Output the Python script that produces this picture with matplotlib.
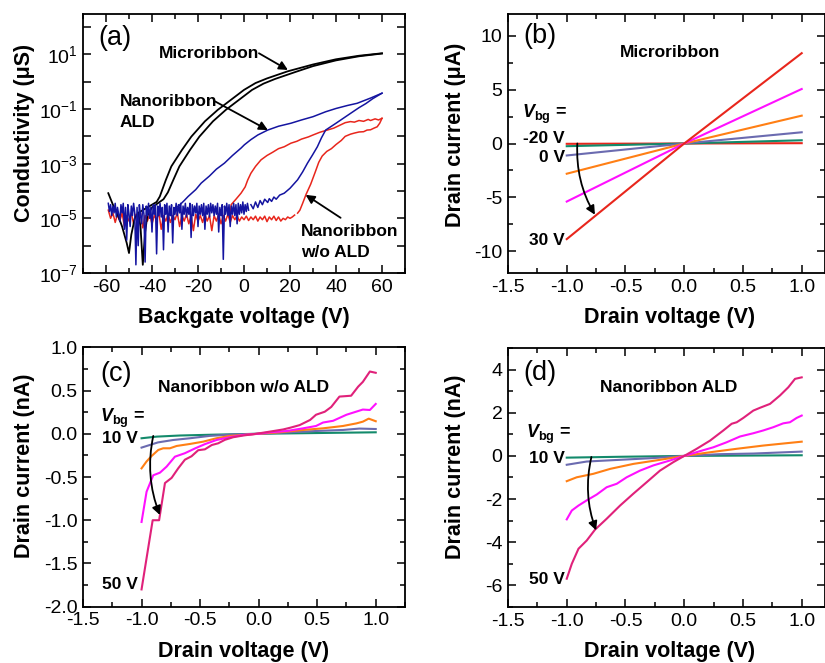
import numpy as np
import matplotlib
matplotlib.use('Agg')
import matplotlib.pyplot as plt
from matplotlib.ticker import MultipleLocator, FixedLocator, FuncFormatter, NullLocator, FormatStrFormatter

plt.rcParams['font.family'] = ['Liberation Sans', 'DejaVu Sans']
plt.rcParams['mathtext.fontset'] = 'custom'
plt.rcParams['mathtext.rm'] = 'Liberation Sans'
plt.rcParams['mathtext.it'] = 'Liberation Sans:italic'
plt.rcParams['mathtext.bf'] = 'Liberation Sans:bold'
plt.rcParams['mathtext.bfit'] = 'Liberation Sans:bold:italic'
plt.rcParams['axes.unicode_minus'] = False

# ---------------- panel (a): conductivity (log10 of uS) vs backgate voltage ----------------
floor_blue_v = np.arange(-59, 2.5, 0.5)
floor_blue_log = [
    -4.45, -4.75, -4.50, -4.90, -4.55, -4.80, -4.45, -4.95, -4.60, -4.85,
    -5.10, -4.50, -4.80, -4.45, -5.40, -4.60, -5.80, -4.50, -4.85, -5.30,
    -4.55, -4.90, -4.45, -4.80, -6.70, -4.60, -6.00, -4.50, -4.90, -5.20,
    -4.50, -4.85, -6.60, -4.55, -4.90, -4.45, -5.00, -4.60, -5.50, -4.50,
    -4.85, -4.50, -6.30, -4.55, -4.90, -4.45, -4.95, -4.60, -6.15, -4.50,
    -4.85, -4.45, -5.50, -4.55, -4.90, -4.50, -5.90, -4.60, -4.85, -4.45,
    -4.90, -4.50, -4.80, -4.45, -5.40, -4.55, -4.85, -4.45, -4.95, -4.60,
    -4.85, -4.45, -5.70, -4.50, -4.90, -4.55, -4.80, -4.45, -5.30, -4.55,
    -4.85, -4.50, -4.90, -4.45, -5.40, -4.55, -4.85, -4.50, -4.95, -4.45,
    -4.80, -4.50, -4.90, -4.55, -4.85, -4.45, -5.50, -4.60, -4.90, -4.50,
    -6.50, -4.55, -4.85, -4.45, -4.90, -4.50, -5.30, -4.55, -4.85, -4.45,
    -4.90, -4.50, -5.20, -4.45, -4.85, -4.50, -4.80, -4.40, -4.85, -4.50,
    -4.75, -4.45, -4.70]
blue_rise_v = [3, 4, 5, 6, 7, 8, 9, 10.3, 11, 12, 13, 14, 15.5, 17.5, 20, 23.3, 25.5, 27.6, 29.8, 31.9,
               33.7, 35.5, 40, 46.3, 50, 53, 56, 60]
blue_rise_log = [-4.5, -4.65, -4.4, -4.6, -4.35, -4.5, -4.3, -4.42, -4.28, -4.38, -4.22, -4.3, -4.15,
                 -4.08, -3.9, -3.59, -3.3, -2.98, -2.68, -2.38, -2.05, -1.77, -1.52, -1.16, -0.95,
                 -0.8, -0.62, -0.42]
blue_back_v = [-28.7, -26, -24.3, -21, -18.6, -15, -12, -8.5, -5, -1.3, 0.15, 3, 6, 10.3, 15, 20.4,
               25, 30, 35.5, 40, 45, 49.2, 55, 60]
blue_back_log = [-4.57, -4.35, -4.2, -3.95, -3.71, -3.45, -3.2, -2.98, -2.7, -2.43, -2.31, -2.12, -1.95,
                 -1.77, -1.63, -1.52, -1.4, -1.28, -1.1, -0.98, -0.87, -0.79, -0.6, -0.42]

floor_red_v = np.arange(-59, 23)
floor_red_log = [
    -4.70, -5.00, -4.80, -5.15, -4.85, -5.10, -4.80, -5.30, -4.90, -5.10,
    -4.80, -5.20, -4.85, -5.05, -4.80, -5.35, -4.90, -5.10, -4.85, -5.20,
    -4.90, -5.05, -4.80, -5.40, -4.90, -5.10, -4.85, -5.15, -4.90, -5.05,
    -4.80, -5.30, -4.90, -5.10, -4.85, -5.20, -4.90, -5.45, -4.85, -5.10,
    -4.90, -5.15, -4.85, -5.10, -4.90, -5.45, -4.90, -5.10, -4.85, -5.20,
    -4.90, -5.10, -4.85, -5.15, -4.90, -5.05, -4.90, -5.10, -4.95, -5.05,
    -4.92, -5.08, -4.95, -5.05, -4.92, -5.10, -4.95, -5.05, -4.92, -5.12,
    -4.95, -5.05, -4.92, -5.08, -4.95, -5.10, -5.00, -5.05, -4.95, -5.00,
    -4.95, -4.88]
red_rise_v = [23.3, 24.3, 25.5, 27, 29, 31, 32.5, 34, 36, 38, 40, 42.3, 44, 46.3, 48, 50, 52, 53.5,
              55, 56.5, 57.9, 59, 60]
red_rise_log = [-4.81, -4.7, -4.45, -4.12, -3.75, -3.3, -2.95, -2.72, -2.55, -2.45, -2.3, -2.15, -2.0,
                -1.92, -1.88, -1.84, -1.83, -1.77, -1.76, -1.7, -1.65, -1.52, -1.34]
red_back_v = [-6, -5.6, -3.5, -1.3, 0.5, 1.6, 3, 5, 7.4, 10, 12.5, 15, 17.5, 20.4, 23, 25, 28, 30, 33,
              36.2, 39, 42, 44, 46.3, 48, 50, 52, 54, 55, 57, 58.5, 60]
red_back_log = [-4.9, -4.5, -4.3, -4.08, -3.85, -3.6, -3.35, -3.1, -2.86, -2.7, -2.58, -2.45, -2.38,
                -2.25, -2.18, -2.1, -2.02, -1.95, -1.85, -1.77, -1.7, -1.58, -1.5, -1.46, -1.48, -1.42,
                -1.45, -1.38, -1.42, -1.36, -1.4, -1.34]

black_back_v = [-59, -57, -55, -53, -51, -50, -49, -47.5, -46, -44, -42, -40, -38, -36.6, -34, -31.6,
                -27, -22.9, -17, -11.4, -5, 0, 5, 10, 19, 30, 40, 50, 60]
black_back_log = [-4.08, -4.5, -4.85, -5.3, -5.9, -6.27, -5.6, -5.0, -4.8, -4.7, -4.6, -4.5, -4.4, -4.2,
                  -3.6, -3.1, -2.5, -2.01, -1.45, -1.03, -0.62, -0.30, -0.05, 0.12, 0.38, 0.63, 0.82,
                  0.95, 1.04]
black_fwd_v = [-46, -45, -44, -43, -42, -40, -37.5, -35, -33.1, -30.5, -28.1, -23.5, -19.4, -13.5, -7.9,
               -1.5, 3.5, 8.5, 13.5, 22.5, 30, 40, 50, 60]
black_fwd_log = [-4.8, -5.3, -6.7, -5.5, -4.9, -4.6, -4.45, -4.3, -4.05, -3.55, -3.1, -2.5, -2.01, -1.45,
                 -1.03, -0.62, -0.30, -0.07, 0.10, 0.36, 0.57, 0.78, 0.93, 1.03]

# ---------------- panel (b): microribbon I-V (uA) ----------------
vd_b = [-1.0, 0.0, 1.0]
b_vbg = ['-20', '-10', '0', '10', '20', '30']
b_curr = [[-0.03, 0.0, 0.03],
          [-0.25, 0.0, 0.30],
          [-1.11, 0.0, 1.04],
          [-2.80, 0.0, 2.58],
          [-5.38, 0.0, 5.05],
          [-8.86, 0.0, 8.37]]

# ---------------- panel (c): nanoribbon w/o ALD (nA) ----------------
c_v10 = [-1.0, -0.87, -0.67, -0.37, 0.0, 1.0]
c_i10 = [-0.052, -0.033, -0.02, -0.01, 0.0, 0.017]
c_v20 = [-1.0, -0.93, -0.86, -0.73, -0.587, -0.42, -0.246, 0.0, 0.27, 0.49, 0.72, 0.86, 1.0]
c_i20 = [-0.16, -0.13, -0.10, -0.072, -0.052, -0.025, -0.01, 0.0, 0.017, 0.032, 0.044, 0.06, 0.055]
c_v30 = [-1.0, -0.957, -0.914, -0.857, -0.815, -0.758, -0.70, -0.587, -0.473, -0.36, -0.246, 0.0,
         0.18, 0.38, 0.55, 0.72, 0.835, 0.89, 0.94, 1.0]
c_i30 = [-0.40, -0.32, -0.257, -0.187, -0.168, -0.168, -0.141, -0.118, -0.091, -0.052, -0.025, 0.0,
         0.017, 0.044, 0.063, 0.09, 0.12, 0.14, 0.175, 0.145]
c_v40 = [-1.0, -0.957, -0.90, -0.843, -0.786, -0.715, -0.63, -0.544, -0.459, -0.36, -0.246, -0.13,
         0.0, 0.096, 0.24, 0.38, 0.49, 0.55, 0.636, 0.75, 0.89, 0.95, 1.0]
c_i40 = [-1.02, -0.67, -0.48, -0.45, -0.38, -0.265, -0.225, -0.17, -0.12, -0.072, -0.04, -0.014,
         0.0, 0.017, 0.032, 0.063, 0.09, 0.13, 0.15, 0.22, 0.28, 0.275, 0.345]
c_v50 = [-1.0, -0.905, -0.85, -0.80, -0.743, -0.687, -0.63, -0.573, -0.516, -0.459, -0.40, -0.345,
         -0.288, -0.217, -0.13, -0.02, 0.096, 0.21, 0.27, 0.35, 0.44, 0.49, 0.565, 0.62, 0.69, 0.79,
         0.85, 0.89, 0.95, 1.0]
c_i50 = [-1.80, -1.0, -1.0, -0.57, -0.51, -0.40, -0.30, -0.26, -0.19, -0.18, -0.13, -0.11, -0.07,
         -0.04, -0.02, 0.0, 0.025, 0.05, 0.07, 0.10, 0.16, 0.22, 0.255, 0.31, 0.43, 0.44, 0.545, 0.60,
         0.72, 0.705]

# ---------------- panel (d): nanoribbon ALD (nA) ----------------
d_v10 = [-1.0, -0.55, 0.0, 1.0]
d_i10 = [-0.08, -0.04, 0.0, 0.03]
d_v20 = [-1.0, -0.83, -0.546, -0.263, 0.0, 0.30, 0.59, 1.0]
d_i20 = [-0.41, -0.26, -0.18, -0.10, 0.0, 0.08, 0.11, 0.20]
d_v30 = [-1.0, -0.915, -0.774, -0.63, -0.433, -0.206, 0.0, 0.22, 0.447, 0.673, 0.872, 1.0]
d_i30 = [-1.17, -0.99, -0.83, -0.60, -0.37, -0.18, 0.0, 0.17, 0.33, 0.48, 0.59, 0.66]
d_v40 = [-1.0, -0.957, -0.90, -0.83, -0.745, -0.66, -0.574, -0.49, -0.376, -0.263, -0.12, 0.0,
         0.134, 0.248, 0.36, 0.475, 0.588, 0.673, 0.758, 0.843, 0.90, 0.957, 1.0]
d_i40 = [-2.94, -2.53, -2.30, -2.06, -1.79, -1.45, -1.29, -0.99, -0.68, -0.44, -0.21, 0.0, 0.22,
         0.40, 0.63, 0.90, 1.05, 1.18, 1.33, 1.51, 1.56, 1.76, 1.87]
d_v50 = [-1.0, -0.957, -0.90, -0.83, -0.76, -0.66, -0.546, -0.433, -0.32, -0.206, -0.093, 0.0,
         0.106, 0.22, 0.333, 0.404, 0.447, 0.503, 0.588, 0.645, 0.73, 0.815, 0.886, 0.943, 1.0]
d_i50 = [-5.69, -5.0, -4.30, -3.92, -3.42, -2.91, -2.30, -1.75, -1.22, -0.68, -0.29, 0.0, 0.33, 0.71,
         1.18, 1.49, 1.56, 1.76, 2.10, 2.23, 2.41, 2.80, 3.18, 3.57, 3.64]

# ---------------- styling ----------------
RED = '#e8261c'
BLUE = '#1414a0'
GREEN = '#138a6b'
SLATE = '#6b6bb0'
ORANGE = '#ff7f14'
MAGENTA = '#ff10ff'
PINK = '#e0217a'
b_colors = [RED, GREEN, SLATE, ORANGE, MAGENTA, RED]

TICK_FS = 14
LABEL_FS = 15.5
ANN_FS = 12.5
PANEL_FS = 19.5

fig = plt.figure(figsize=(8.25, 6.63), dpi=100)
W, H = 825.0, 663.0


def add_ax(l, r, t, b):
    return fig.add_axes([l / W, 1 - b / H, (r - l) / W, (b - t) / H])


axa = add_ax(83, 405, 14, 273)
axb = add_ax(508, 825.2, 14, 273)
axc = add_ax(83, 405, 347.3, 606.7)
axd = add_ax(508, 825.2, 348, 607)


def style(ax):
    for s in ax.spines.values():
        s.set_linewidth(1.3)
    ax.tick_params(which='both', direction='in', top=True, right=True, width=1.1,
                   labelsize=TICK_FS, pad=4)
    ax.tick_params(which='major', length=5.5)
    ax.tick_params(which='minor', length=3.5)


def arrow(ax, start, end, rad=0.0):
    ax.annotate('', xy=end, xytext=start,
                arrowprops=dict(arrowstyle='-|>', color='k', lw=1.3, mutation_scale=13,
                                shrinkA=0, shrinkB=0, connectionstyle='arc3,rad=%g' % rad))


def labels(ax, xl, yl, ylx, yly, xlx, xly):
    ax.set_xlabel(xl, fontsize=LABEL_FS, fontweight='bold', va='center')
    ax.set_ylabel(yl, fontsize=LABEL_FS, fontweight='bold', va='center')
    ax.xaxis.set_label_coords(xlx, xly)
    ax.yaxis.set_label_coords(ylx, yly)


# ---------- (a) ----------
ax = axa
ax.plot(floor_red_v, 10.0 ** np.array(floor_red_log), color=RED, lw=1.1)
ax.plot(red_rise_v, 10.0 ** np.array(red_rise_log), color=RED, lw=1.1)
ax.plot(red_back_v, 10.0 ** np.array(red_back_log), color=RED, lw=1.1)
ax.plot(black_back_v, 10.0 ** np.array(black_back_log), color='k', lw=1.3)
ax.plot(black_fwd_v, 10.0 ** np.array(black_fwd_log), color='k', lw=1.3)
ax.plot(floor_blue_v, 10.0 ** np.array(floor_blue_log), color=BLUE, lw=1.1)
ax.plot(blue_rise_v, 10.0 ** np.array(blue_rise_log), color=BLUE, lw=1.1)
ax.plot(blue_back_v, 10.0 ** np.array(blue_back_log), color=BLUE, lw=1.1)
ax.set_yscale('log')
ax.set_xlim(-70, 70)
ax.set_ylim(1e-7, 3e2)
ax.xaxis.set_major_locator(MultipleLocator(20))
ax.xaxis.set_minor_locator(MultipleLocator(10))
ax.yaxis.set_major_locator(FixedLocator([10.0 ** k for k in range(-7, 3)]))
ax.yaxis.set_minor_locator(NullLocator())


def logfmt(y, pos):
    e = int(round(np.log10(y)))
    return r'$\mathregular{10^{%d}}$' % e if e % 2 != 0 else ''


ax.yaxis.set_major_formatter(FuncFormatter(logfmt))
style(ax)
labels(ax, 'Backgate voltage (V)', 'Conductivity (μS)', -0.183, 0.54, 0.5, -0.17)
ax.text(0.047, 0.909, '(a)', transform=ax.transAxes, fontsize=PANEL_FS, ha='left', va='center')
ax.text(-37.2, 10 ** 1.05, 'Microribbon', fontsize=ANN_FS, fontweight='bold', ha='left', va='center')
arrow(ax, (6.5, 10 ** 1.04), (19.1, 10 ** 0.43))
ax.text(-54.0, 10 ** -0.71, 'Nanoribbon', fontsize=ANN_FS, fontweight='bold', ha='left', va='center')
ax.text(-54.0, 10 ** -1.51, 'ALD', fontsize=ANN_FS, fontweight='bold', ha='left', va='center')
arrow(ax, (-12.6, 10 ** -0.72), (10.4, 10 ** -1.77))
ax.text(24.7, 10 ** -5.49, 'Nanoribbon', fontsize=ANN_FS, fontweight='bold', ha='left', va='center')
ax.text(24.7, 10 ** -6.26, 'w/o ALD', fontsize=ANN_FS, fontweight='bold', ha='left', va='center')
arrow(ax, (42.0, 10 ** -4.98), (26.8, 10 ** -4.14))

# ---------- (b) ----------
ax = axb
for cur, col in zip(b_curr, b_colors):
    ax.plot(vd_b, cur, color=col, lw=1.5)
ax.set_xlim(-1.5, 1.2)
ax.set_ylim(-12, 12)
ax.xaxis.set_major_locator(MultipleLocator(0.5))
ax.xaxis.set_minor_locator(MultipleLocator(0.25))
ax.xaxis.set_major_formatter(FormatStrFormatter('%.1f'))
ax.yaxis.set_major_locator(MultipleLocator(5))
ax.yaxis.set_minor_locator(MultipleLocator(2.5))
style(ax)
labels(ax, 'Drain voltage (V)', 'Drain current (μA)', -0.167, 0.533, 0.51, -0.17)
ax.text(0.047, 0.915, '(b)', transform=ax.transAxes, fontsize=PANEL_FS, ha='left', va='center')
ax.text(-0.12, 8.4, 'Microribbon', fontsize=ANN_FS, fontweight='bold', ha='center', va='center')
ax.text(-1.38, 2.7, r'$\mathbfit{V}_{\mathbf{bg}}$ =', fontsize=ANN_FS + 0.5, fontweight='bold',
        ha='left', va='center')
ax.text(-1.015, 0.43, '-20 V', fontsize=ANN_FS, fontweight='bold', ha='right', va='center')
ax.text(-1.015, -1.26, '0 V', fontsize=ANN_FS, fontweight='bold', ha='right', va='center')
ax.text(-1.015, -9.02, '30 V', fontsize=ANN_FS, fontweight='bold', ha='right', va='center')
arrow(ax, (-0.91, 0.0), (-0.76, -6.6), rad=0.15)

# ---------- (c) ----------
ax = axc
for v, i, col in [(c_v10, c_i10, GREEN), (c_v20, c_i20, SLATE), (c_v30, c_i30, ORANGE),
                  (c_v40, c_i40, MAGENTA), (c_v50, c_i50, PINK)]:
    ax.plot(v, i, color=col, lw=1.5)
ax.set_xlim(-1.5, 1.25)
ax.set_ylim(-2.0, 1.0)
ax.xaxis.set_major_locator(MultipleLocator(0.5))
ax.xaxis.set_minor_locator(MultipleLocator(0.25))
ax.xaxis.set_major_formatter(FormatStrFormatter('%.1f'))
ax.yaxis.set_major_locator(MultipleLocator(0.5))
ax.yaxis.set_minor_locator(MultipleLocator(0.25))
ax.yaxis.set_major_formatter(FormatStrFormatter('%.1f'))
style(ax)
labels(ax, 'Drain voltage (V)', 'Drain current (nA)', -0.183, 0.542, 0.5, -0.172)
ax.text(0.053, 0.898, '(c)', transform=ax.transAxes, fontsize=PANEL_FS, ha='left', va='center')
ax.text(-0.126, 0.54, 'Nanoribbon w/o ALD', fontsize=ANN_FS, fontweight='bold', ha='center', va='center')
ax.text(-1.357, 0.18, r'$\mathbfit{V}_{\mathbf{bg}}$ =', fontsize=ANN_FS + 0.5, fontweight='bold',
        ha='left', va='center')
ax.text(-1.03, -0.05, '10 V', fontsize=ANN_FS, fontweight='bold', ha='right', va='center')
ax.text(-1.03, -1.74, '50 V', fontsize=ANN_FS, fontweight='bold', ha='right', va='center')
arrow(ax, (-0.9, -0.025), (-0.843, -0.94), rad=0.15)

# ---------- (d) ----------
ax = axd
for v, i, col in [(d_v10, d_i10, GREEN), (d_v20, d_i20, SLATE), (d_v30, d_i30, ORANGE),
                  (d_v40, d_i40, MAGENTA), (d_v50, d_i50, PINK)]:
    ax.plot(v, i, color=col, lw=1.5)
ax.set_xlim(-1.5, 1.2)
ax.set_ylim(-7, 5)
ax.xaxis.set_major_locator(MultipleLocator(0.5))
ax.xaxis.set_minor_locator(MultipleLocator(0.25))
ax.xaxis.set_major_formatter(FormatStrFormatter('%.1f'))
ax.yaxis.set_major_locator(MultipleLocator(2))
ax.yaxis.set_minor_locator(MultipleLocator(1))
style(ax)
labels(ax, 'Drain voltage (V)', 'Drain current (nA)', -0.167, 0.542, 0.51, -0.172)
ax.text(0.047, 0.905, '(d)', transform=ax.transAxes, fontsize=PANEL_FS, ha='left', va='center')
ax.text(-0.13, 3.15, 'Nanoribbon ALD', fontsize=ANN_FS, fontweight='bold', ha='center', va='center')
ax.text(-1.346, 0.98, r'$\mathbfit{V}_{\mathbf{bg}}$ =', fontsize=ANN_FS + 0.5, fontweight='bold',
        ha='left', va='center')
ax.text(-1.015, -0.1, '10 V', fontsize=ANN_FS, fontweight='bold', ha='right', va='center')
ax.text(-1.015, -5.74, '50 V', fontsize=ANN_FS, fontweight='bold', ha='right', va='center')
arrow(ax, (-0.79, -0.05), (-0.75, -3.45), rad=0.15)

fig.savefig('out.png', dpi=100)
